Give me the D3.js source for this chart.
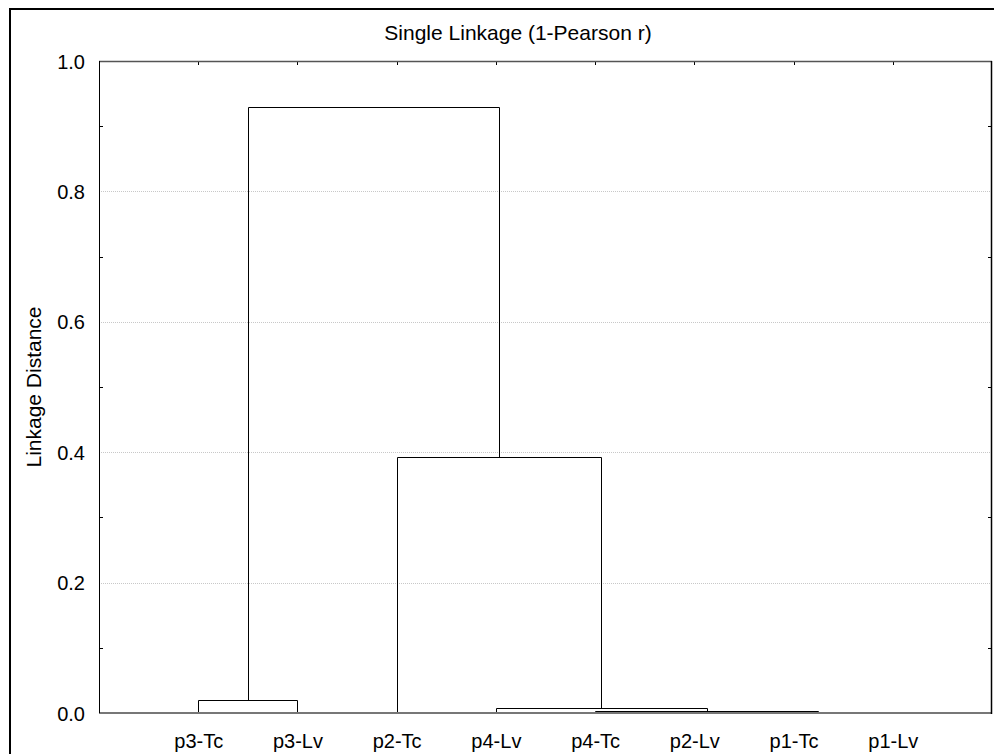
<!DOCTYPE html>
<html>
<head>
<meta charset="utf-8">
<script src="https://cdn.jsdelivr.net/npm/d3@7"></script>
<style>
  body { margin: 0; background: #fff; }
  svg text { fill: #000; }
  .tick-label { font-family: "Liberation Sans", Arial, sans-serif; font-size: 20px; }
  .title { font-family: "Liberation Sans Narrow", "Arial Narrow", "Liberation Sans", sans-serif; font-size: 21px; }
</style>
</head>
<body>
<div id="chart"></div>
<script>
let svgWidth = 994;
let svgHeight = 754;

// plot box
let margin = { top: 61, right: 2, bottom: 41, left: 99 };
let width = svgWidth - margin.left - margin.right;
let height = svgHeight - margin.top - margin.bottom;

// leaves, left to right
let leaves = ['p3-Tc', 'p3-Lv', 'p2-Tc', 'p4-Lv', 'p4-Tc', 'p2-Lv', 'p1-Tc', 'p1-Lv'];

// merges: index < 8 is a leaf, index >= 8 is the node made by row (index - 8)
let mergeLeft   = [5, 8, 4, 3, 0, 2, 12];
let mergeRight  = [6, 7, 9, 10, 1, 11, 13];
let mergeHeight = [0.001, 0.0018, 0.0035, 0.0072, 0.0205, 0.393, 0.929];

let yTicks = [0.0, 0.2, 0.4, 0.6, 0.8, 1.0];
let yMinor = [0.1, 0.3, 0.5, 0.7, 0.9];

let svg = d3.select('#chart').append('svg')
    .attr('width', svgWidth)
    .attr('height', svgHeight);

// outer frame (only top and left show)
svg.append('line').attr('x1', 10).attr('x2', svgWidth).attr('y1', 9).attr('y2', 9)
    .attr('stroke', '#000').attr('stroke-width', 2);
svg.append('line').attr('x1', 10).attr('x2', 10).attr('y1', 8).attr('y2', svgHeight)
    .attr('stroke', '#000').attr('stroke-width', 2);

let chartGroup = svg.append('g')
    .attr('transform', `translate(${margin.left}, ${margin.top})`);

let x = d3.scaleLinear().domain([0, leaves.length + 1]).range([0, width]);
let y = d3.scaleLinear().domain([0, 1]).range([height, 0]);

// gridlines
chartGroup.selectAll('.grid')
    .data(yTicks.filter(d => d > 0 && d < 1))
    .enter()
    .append('line')
    .attr('x1', 0).attr('x2', width)
    .attr('y1', d => Math.round(y(d)) + 0.5).attr('y2', d => Math.round(y(d)) + 0.5)
    .attr('stroke', '#c8c8c8')
    .attr('stroke-dasharray', '1,1');

// y labels
let leftAxis = d3.axisLeft(y).tickValues(yTicks).tickSize(0).tickPadding(14)
    .tickFormat(d3.format('.1f'));
let yAxis = chartGroup.append('g').call(leftAxis);
yAxis.select('.domain').remove();
yAxis.selectAll('text').attr('class', 'tick-label').attr('dy', '0.35em');

// minor ticks on left and right, pointing in
chartGroup.selectAll('.ltick').data(yMinor).enter().append('line')
    .attr('x1', 0).attr('x2', 4)
    .attr('y1', d => Math.round(y(d)) + 0.5).attr('y2', d => Math.round(y(d)) + 0.5)
    .attr('stroke', '#000');
chartGroup.selectAll('.rtick').data(yMinor).enter().append('line')
    .attr('x1', width - 4).attr('x2', width)
    .attr('y1', d => Math.round(y(d)) + 0.5).attr('y2', d => Math.round(y(d)) + 0.5)
    .attr('stroke', '#000');

// top ticks at each leaf
chartGroup.selectAll('.ttick').data(leaves).enter().append('line')
    .attr('x1', (d, i) => Math.round(x(i + 1)) + 0.5).attr('x2', (d, i) => Math.round(x(i + 1)) + 0.5)
    .attr('y1', 0).attr('y2', 4)
    .attr('stroke', '#000');

// x labels
let bottomAxis = d3.axisBottom(x).tickValues(d3.range(1, leaves.length + 1))
    .tickSize(0).tickPadding(21)
    .tickFormat(d => leaves[d - 1]);
let xAxis = chartGroup.append('g')
    .attr('transform', `translate(0, ${height})`)
    .call(bottomAxis);
xAxis.select('.domain').remove();
xAxis.selectAll('text').attr('class', 'tick-label');

// dendrogram
let nodeX = leaves.map((d, i) => x(i + 1));
let nodeH = leaves.map(() => 0);
let links = [];
mergeLeft.forEach(function(a, k) {
    let b = mergeRight[k];
    let h = mergeHeight[k];
    links.push({ x1: nodeX[a], h1: nodeH[a], x2: nodeX[b], h2: nodeH[b], h: h });
    nodeX.push((nodeX[a] + nodeX[b]) / 2);
    nodeH.push(h);
});

let px = v => Math.round(v) + 0.5;

chartGroup.selectAll('.link')
    .data(links)
    .enter()
    .append('path')
    .attr('fill', 'none')
    .attr('stroke', '#000')
    .attr('stroke-width', 1)
    .attr('d', d => `M${px(d.x1)},${px(y(d.h1))}V${px(y(d.h))}H${px(d.x2)}V${px(y(d.h2))}`);

// plot frame
chartGroup.append('line').attr('x1', 0).attr('x2', width).attr('y1', 0.5).attr('y2', 0.5)
    .attr('stroke', '#555').attr('stroke-width', 1.5);
chartGroup.append('line').attr('x1', 0).attr('x2', width).attr('y1', height).attr('y2', height)
    .attr('stroke', '#777').attr('stroke-width', 2);
chartGroup.append('line').attr('x1', 0.5).attr('x2', 0.5).attr('y1', 0).attr('y2', height)
    .attr('stroke', '#000');
chartGroup.append('line').attr('x1', width - 0.5).attr('x2', width - 0.5).attr('y1', 0).attr('y2', height + 1)
    .attr('stroke', '#000').attr('stroke-width', 1.5);

// title
svg.append('text')
    .attr('class', 'title')
    .attr('x', 518)
    .attr('y', 40)
    .attr('text-anchor', 'middle')
    .text('Single Linkage (1-Pearson r)');

// y title
svg.append('text')
    .attr('class', 'title')
    .attr('transform', `translate(41, ${margin.top + height / 2}) rotate(-90)`)
    .attr('text-anchor', 'middle')
    .text('Linkage Distance');
</script>
</body>
</html>
